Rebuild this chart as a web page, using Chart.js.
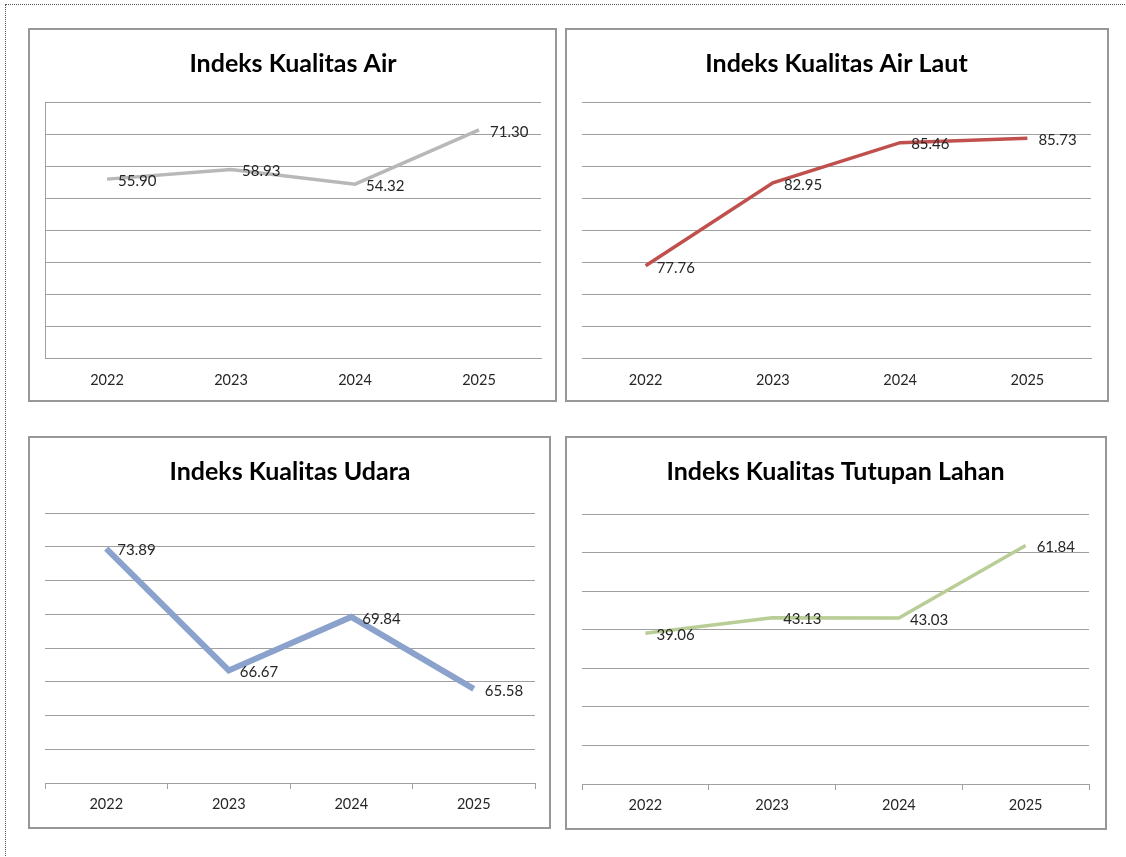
<!DOCTYPE html>
<html>
<head>
<meta charset="utf-8">
<script src="https://cdn.jsdelivr.net/npm/chart.js@4.4.0/dist/chart.umd.min.js"></script>
<style>
    html, body { margin: 0; padding: 0; background: #fff; overflow: hidden; }
    body { width: 1126px; height: 857px; position: relative; }
    #frame { position: absolute; left: 5px; top: 4px; width: 1200px; height: 900px; border: 1px dotted #555; }
    .panel { position: absolute; border: 2px solid #979797; box-sizing: border-box; background: #fff; }
    .panel canvas { position: absolute; left: 0; top: 0; }
</style>
</head>
<body>
<div id="frame"></div>
<div class="panel" style="left:28px; top:28px; width:529px; height:374px;"><canvas id="airCanvas"></canvas></div>
<div class="panel" style="left:565px; top:28px; width:544px; height:374px;"><canvas id="lautCanvas"></canvas></div>
<div class="panel" style="left:28px; top:436px; width:523px; height:393px;"><canvas id="udaraCanvas"></canvas></div>
<div class="panel" style="left:565px; top:436px; width:542px; height:394px;"><canvas id="lahanCanvas"></canvas></div>

<script>
//Data
const years = ['2022', '2023', '2024', '2025'];
const airValues = [55.90, 58.93, 54.32, 71.30];
const lautValues = [77.76, 82.95, 85.46, 85.73];
const udaraValues = [73.89, 66.67, 69.84, 65.58];
const lahanValues = [39.06, 43.13, 43.03, 61.84];

//Y axis ranges [min, max, step]
const airRange = [0, 80, 10];
const lautRange = [72, 88, 2];
const udaraRange = [60, 76, 2];
const lahanRange = [0, 70, 10];

const FONT = "Lato, 'Noto Sans', sans-serif";
const GRID = '#a0a0a0';

// draws value labels to the right of every point, like the spreadsheet did
const valueLabels = {
    id: 'valueLabels',
    afterDatasetsDraw(chart) {
        let ctx = chart.ctx;
        let meta = chart.getDatasetMeta(0);
        let vals = chart.data.datasets[0].data;
        ctx.save();
        ctx.font = '15px ' + FONT;
        ctx.fillStyle = '#262626';
        ctx.textAlign = 'left';
        ctx.textBaseline = 'middle';
        meta.data.forEach(function (pt, i) {
            ctx.fillText(vals[i].toFixed(2), pt.x + 11, pt.y + 2);
        });
        ctx.restore();
    }
};

function makeChart(id, w, h, title, values, range, cfg) {
    let c = document.getElementById(id);
    c.width = w;
    c.height = h;
    c.style.width = w + 'px';
    c.style.height = h + 'px';
    return new Chart(c.getContext('2d'), {
        type: 'line',
        data: {
            labels: years,
            datasets: [{
                data: values,
                borderColor: cfg.color,
                borderWidth: cfg.lineWidth,
                pointRadius: 0,
                tension: 0,
                fill: false
            }]
        },
        options: {
            responsive: false,
            animation: false,
            events: [],
            layout: {padding: {left: cfg.left, right: cfg.right, top: 0, bottom: 0}},
            plugins: {
                legend: {display: false},
                tooltip: {enabled: false},
                title: {
                    display: true,
                    text: title,
                    color: '#000',
                    font: {family: FONT, size: 25, weight: 'bold', lineHeight: 1.2},
                    padding: {top: 19, bottom: cfg.top - 19 - 30}
                }
            },
            scales: {
                x: {
                    offset: true,
                    afterFit: function (s) { s.height = cfg.xHeight; },
                    grid: {
                        display: cfg.ticks,
                        drawOnChartArea: false,
                        drawTicks: cfg.ticks,
                        tickLength: 6,
                        offset: true,
                        color: GRID
                    },
                    border: {display: true, color: GRID, width: 1},
                    ticks: {
                        color: '#262626',
                        font: {family: FONT, size: 14.5},
                        padding: cfg.ticks ? 7 : 14,
                        maxRotation: 0
                    }
                },
                y: {
                    min: range[0],
                    max: range[1],
                    afterFit: function (s) { s.width = 0; },
                    ticks: {display: false, stepSize: range[2]},
                    grid: {color: GRID, drawTicks: false},
                    border: {display: cfg.yBorder, color: GRID, width: 1}
                }
            }
        },
        plugins: [valueLabels]
    });
}

makeChart('airCanvas', 525, 370, 'Indeks Kualitas Air', airValues, airRange,
    {color: '#b8b8b8', lineWidth: 3.5, left: 15, right: 14, top: 72, xHeight: 42, ticks: false, yBorder: true});
makeChart('lautCanvas', 540, 370, 'Indeks Kualitas Air Laut', lautValues, lautRange,
    {color: '#c0504d', lineWidth: 3.5, left: 15, right: 16, top: 72, xHeight: 42, ticks: false, yBorder: false});
makeChart('udaraCanvas', 519, 389, 'Indeks Kualitas Udara', udaraValues, udaraRange,
    {color: '#8aa2cc', lineWidth: 6, left: 15, right: 14, top: 75, xHeight: 44, ticks: true, yBorder: false});
makeChart('lahanCanvas', 538, 390, 'Indeks Kualitas Tutupan Lahan', lahanValues, lahanRange,
    {color: '#b9cd96', lineWidth: 3.5, left: 15, right: 16, top: 76, xHeight: 44, ticks: true, yBorder: false});
</script>
</body>
</html>
